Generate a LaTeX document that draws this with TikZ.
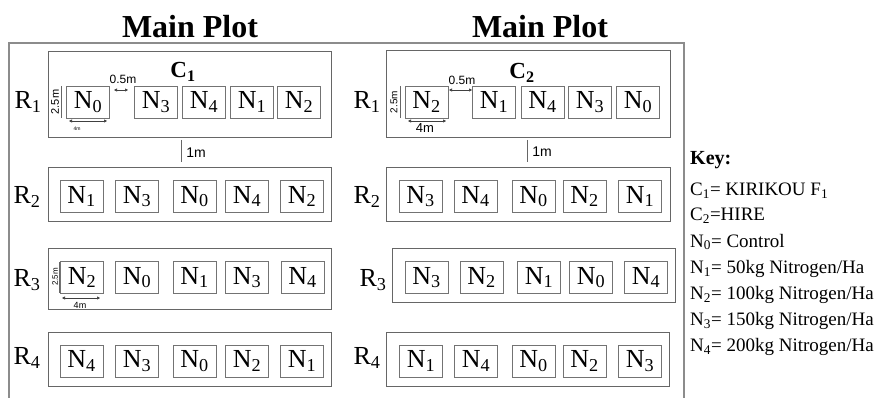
\documentclass[tikz,border=0pt]{standalone}
\usepackage{fontspec}
\setmainfont{Liberation Serif}
\setsansfont{Liberation Sans}
\usetikzlibrary{arrows.meta}

\newcommand{\fsz}[1]{\fontsize{#1}{#1}\selectfont}

\begin{document}
\begin{tikzpicture}[
  x=1pt, y=1pt, yscale=-1,
  plotbox/.style={draw=black!55, line width=0.8pt, inner sep=0pt, minimum width=43pt, minimum height=32pt, font=\fsz{26}},
  rowbox/.style={draw=black!60, line width=0.9pt, inner sep=0pt, minimum width=283pt},
  rlabel/.style={font=\fsz{26}, inner sep=0pt},
  clabel/.style={font=\bfseries\fsz{23}, inner sep=0pt},
  title/.style={font=\bfseries\fsz{32}, inner sep=0pt},
  dimtext/.style={font=\sffamily, inner sep=0pt},
  dimline/.style={draw=black!75, line width=0.6pt, arrows={Triangle[length=3pt,width=3pt]-Triangle[length=3pt,width=3pt]}},
  tick/.style={draw=black!60, line width=0.8pt},
  keytext/.style={font=\fsz{19}, anchor=west, inner sep=0pt},
  frame/.style={draw=black!45, line width=1.2pt}
]
  \useasboundingbox (0,0) rectangle (880,398);

  % --- Rahmen und Titel ---
  \draw[frame] (9,398) -- (9,43) -- (684,43) -- (684,398);
  \node[title] (main1) at (190,27) {Main Plot};
  \node[title] (main2) at (540,27) {Main Plot};

  % --- Reihenblöcke ---
  \node[rowbox, minimum height=86pt] (c1r1) at (189.5,94) {};
  \node[rowbox, minimum height=87pt, minimum width=284pt] (c2r1) at (528,93.5) {};
  \node[rowbox, minimum height=54pt] (c1r2) at (189.5,194) {};
  \node[rowbox, minimum height=54pt, minimum width=284pt] (c2r2) at (528,194) {};
  \node[rowbox, minimum height=61pt] (c1r3) at (189.5,278.5) {};
  \node[rowbox, minimum height=54pt] (c2r3) at (533.5,275) {};
  \node[rowbox, minimum height=54pt] (c1r4) at (189.5,359) {};
  \node[rowbox, minimum height=54pt] (c2r4) at (527.5,359) {};

  \node[clabel] (c1) at (183,72) {C\textsubscript{1}};
  \node[clabel] (c2) at (522,73) {C\textsubscript{2}};

  % --- R-Beschriftungen ---
  \node[rlabel] (r1a) at (28,102) {R\textsubscript{1}};
  \node[rlabel] (r2a) at (27,197) {R\textsubscript{2}};
  \node[rlabel] (r3a) at (27,280) {R\textsubscript{3}};
  \node[rlabel] (r4a) at (27,358) {R\textsubscript{4}};
  \node[rlabel] (r1b) at (367,102) {R\textsubscript{1}};
  \node[rlabel] (r2b) at (367,197) {R\textsubscript{2}};
  \node[rlabel] (r3b) at (373,280) {R\textsubscript{3}};
  \node[rlabel] (r4b) at (367,358) {R\textsubscript{4}};

  % --- Parzellen C1 ---
  \node[plotbox] (c1r1_1) at (88,102) {N\textsubscript{0}};
  \node[plotbox] (c1r1_2) at (156,102) {N\textsubscript{3}};
  \node[plotbox] (c1r1_3) at (204,102) {N\textsubscript{4}};
  \node[plotbox] (c1r1_4) at (252,102) {N\textsubscript{1}};
  \node[plotbox] (c1r1_5) at (299,102) {N\textsubscript{2}};

  \node[plotbox] (c1r2_1) at (81.5,196.5) {N\textsubscript{1}};
  \node[plotbox] (c1r2_2) at (137,196.5) {N\textsubscript{3}};
  \node[plotbox] (c1r2_3) at (194.5,196.5) {N\textsubscript{0}};
  \node[plotbox] (c1r2_4) at (247,196.5) {N\textsubscript{4}};
  \node[plotbox] (c1r2_5) at (302,196.5) {N\textsubscript{2}};

  \node[plotbox] (c1r3_1) at (82,277.5) {N\textsubscript{2}};
  \node[plotbox] (c1r3_2) at (137,277.5) {N\textsubscript{0}};
  \node[plotbox] (c1r3_3) at (194.5,277.5) {N\textsubscript{1}};
  \node[plotbox] (c1r3_4) at (247,277.5) {N\textsubscript{3}};
  \node[plotbox] (c1r3_5) at (302.5,277.5) {N\textsubscript{4}};

  \node[plotbox] (c1r4_1) at (81.5,361) {N\textsubscript{4}};
  \node[plotbox] (c1r4_2) at (137,361) {N\textsubscript{3}};
  \node[plotbox] (c1r4_3) at (194.5,361) {N\textsubscript{0}};
  \node[plotbox] (c1r4_4) at (247,361) {N\textsubscript{2}};
  \node[plotbox] (c1r4_5) at (302,361) {N\textsubscript{1}};

  % --- Parzellen C2 ---
  \node[plotbox] (c2r1_1) at (426.5,102) {N\textsubscript{2}};
  \node[plotbox] (c2r1_2) at (494,102) {N\textsubscript{1}};
  \node[plotbox] (c2r1_3) at (542.5,102) {N\textsubscript{4}};
  \node[plotbox] (c2r1_4) at (590,102) {N\textsubscript{3}};
  \node[plotbox] (c2r1_5) at (638,102) {N\textsubscript{0}};

  \node[plotbox] (c2r2_1) at (420.5,196.5) {N\textsubscript{3}};
  \node[plotbox] (c2r2_2) at (475.5,196.5) {N\textsubscript{4}};
  \node[plotbox] (c2r2_3) at (533.5,196.5) {N\textsubscript{0}};
  \node[plotbox] (c2r2_4) at (584.5,196.5) {N\textsubscript{2}};
  \node[plotbox] (c2r2_5) at (640,196.5) {N\textsubscript{1}};

  \node[plotbox] (c2r3_1) at (426.5,277.5) {N\textsubscript{3}};
  \node[plotbox] (c2r3_2) at (481.5,277.5) {N\textsubscript{2}};
  \node[plotbox] (c2r3_3) at (539,277.5) {N\textsubscript{1}};
  \node[plotbox] (c2r3_4) at (591,277.5) {N\textsubscript{0}};
  \node[plotbox] (c2r3_5) at (646,277.5) {N\textsubscript{4}};

  \node[plotbox] (c2r4_1) at (421,361) {N\textsubscript{1}};
  \node[plotbox] (c2r4_2) at (476,361) {N\textsubscript{4}};
  \node[plotbox] (c2r4_3) at (533.5,361) {N\textsubscript{0}};
  \node[plotbox] (c2r4_4) at (584.5,361) {N\textsubscript{2}};
  \node[plotbox] (c2r4_5) at (640,361) {N\textsubscript{3}};

  % --- Maße C1 ---
  \coordinate (a1) at (114,90); \coordinate (a2) at (128,90);
  \draw[dimline] (a1) -- (a2);
  \node[dimtext, font=\sffamily\fsz{12}] (gap1) at (123,79) {0.5m};
  \coordinate (b1) at (61,86); \coordinate (b2) at (61,118);
  \draw[tick] (b1) -- (b2);
  \node[dimtext, font=\sffamily\fsz{11}, rotate=90] (h1) at (55,102) {2.5m};
  \coordinate (w1) at (69,121); \coordinate (w2) at (107,121);
  \draw[dimline] (w1) -- (w2);
  \node[dimtext, font=\sffamily\fsz{5}] (wd1) at (77,129) {4m};
  \coordinate (d1) at (181,140); \coordinate (d2) at (181,162);
  \draw[tick] (d1) -- (d2);
  \node[dimtext, font=\sffamily\fsz{14}] (m1) at (196,153) {1m};
  \coordinate (b3) at (59,262); \coordinate (b4) at (59,293);
  \draw[tick] (b3) -- (b4);
  \node[dimtext, font=\sffamily\fsz{8}, rotate=90] (h3) at (55,277) {2.5m};
  \coordinate (w3) at (62,298); \coordinate (w4) at (100,298);
  \draw[dimline] (w3) -- (w4);
  \node[dimtext, font=\sffamily\fsz{9}] (wd3) at (80,305) {4m};

  % --- Maße C2 ---
  \coordinate (a3) at (449,90); \coordinate (a4) at (472,90);
  \draw[dimline] (a3) -- (a4);
  \node[dimtext, font=\sffamily\fsz{12}] (gap2) at (462,80) {0.5m};
  \coordinate (b5) at (400,86); \coordinate (b6) at (400,118);
  \draw[tick] (b5) -- (b6);
  \node[dimtext, font=\sffamily\fsz{10}, rotate=90] (h2) at (394,102) {2.5m};
  \coordinate (w5) at (408,121); \coordinate (w6) at (446,121);
  \draw[dimline] (w5) -- (w6);
  \node[dimtext, font=\sffamily\fsz{13}] (wd2) at (425,128) {4m};
  \coordinate (d3) at (527,140); \coordinate (d4) at (527,162);
  \draw[tick] (d3) -- (d4);
  \node[dimtext, font=\sffamily\fsz{14}] (m2) at (542,152) {1m};

  % --- Legende ---
  \node[keytext, font=\bfseries\fsz{20}] (key) at (690,160) {Key:};
  \node[keytext] (k1) at (690,191) {C\textsubscript{1}= KIRIKOU F\textsubscript{1}};
  \node[keytext] (k2) at (690,216) {C\textsubscript{2}=HIRE};
  \node[keytext] (k3) at (690,242) {N\textsubscript{0}= Control};
  \node[keytext] (k4) at (690,269) {N\textsubscript{1}= 50kg Nitrogen/Ha};
  \node[keytext] (k5) at (690,295) {N\textsubscript{2}= 100kg Nitrogen/Ha};
  \node[keytext] (k6) at (690,321) {N\textsubscript{3}= 150kg Nitrogen/Ha};
  \node[keytext] (k7) at (690,347) {N\textsubscript{4}= 200kg Nitrogen/Ha};
\end{tikzpicture}
\end{document}
